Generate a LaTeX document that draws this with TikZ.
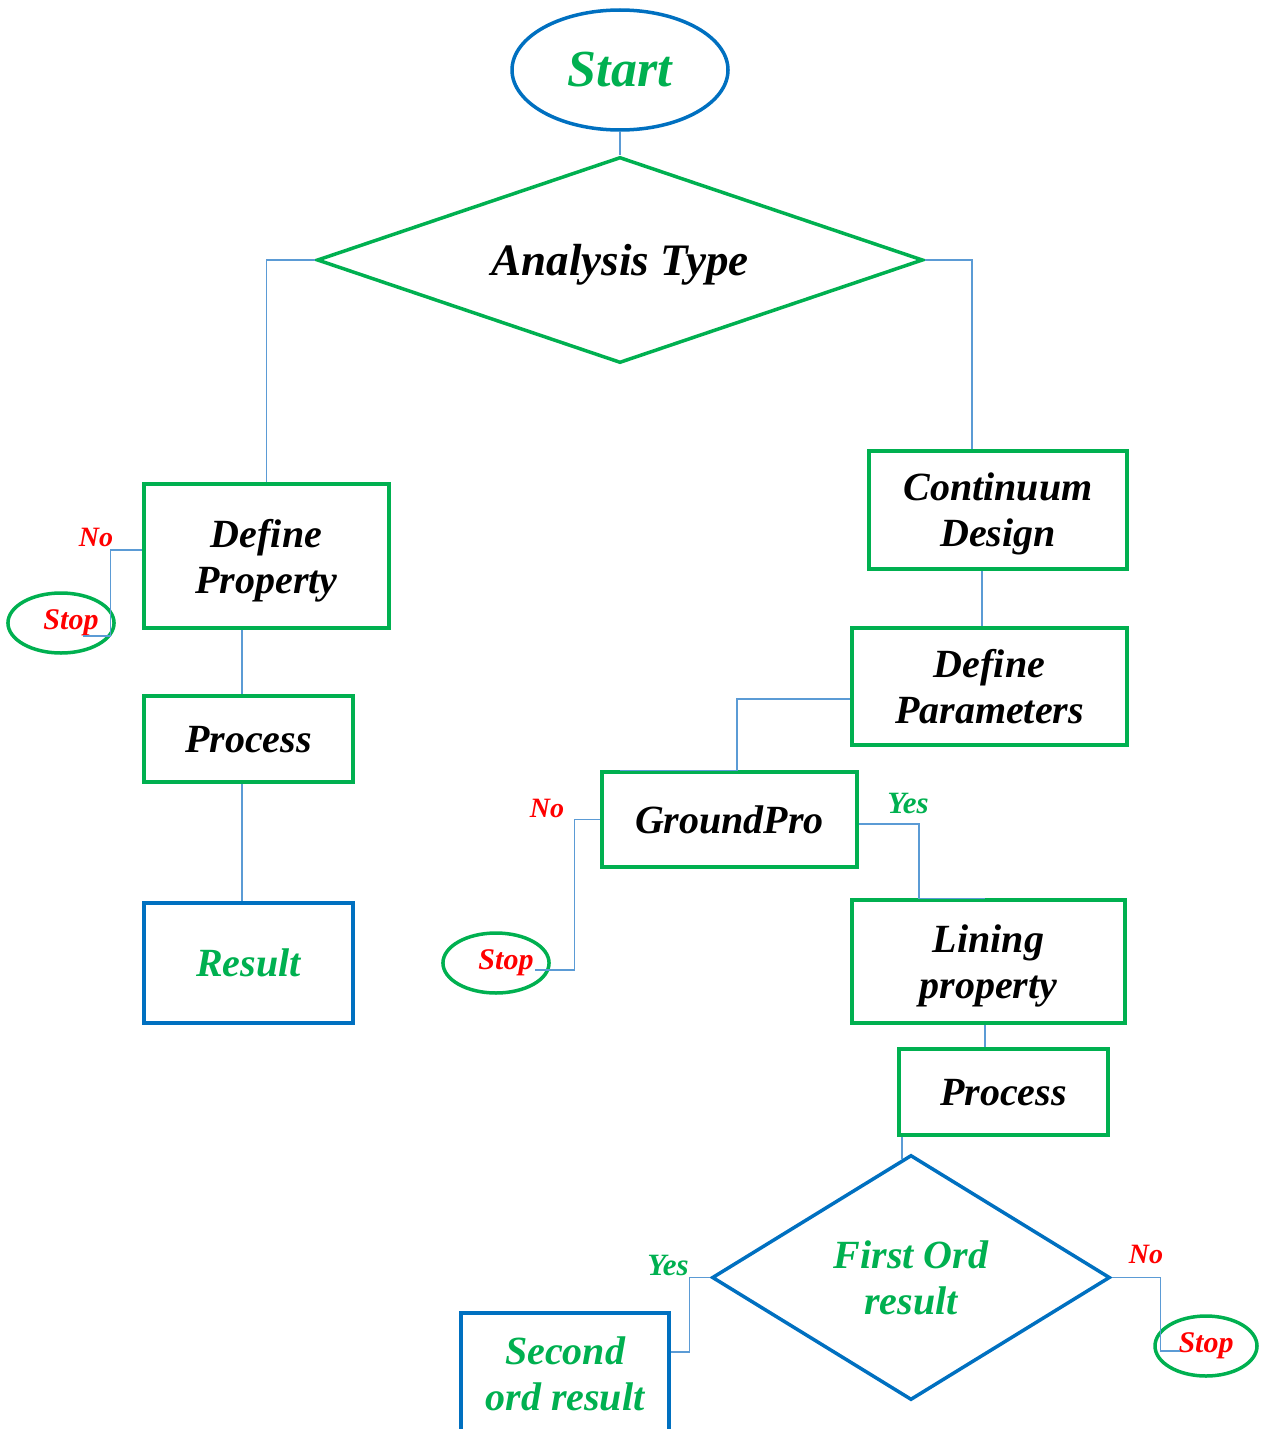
\documentclass[tikz,border=0pt]{standalone}
\usepackage{fontspec}
\setmainfont{Liberation Serif}
\usepackage{tikz}
\usetikzlibrary{shapes}
\definecolor{flowgreen}{RGB}{0,176,80}
\definecolor{flowblue}{RGB}{0,112,192}
\definecolor{linkblue}{RGB}{91,155,213}
\newcommand\flowfont{\fontsize{40}{46}\selectfont\bfseries\itshape}
\tikzstyle{terminal} = [ellipse, draw=flowblue, line width=3.5pt, inner sep=0pt, minimum width=216pt,
minimum height=120pt, text=flowgreen, font=\fontsize{52}{56}\selectfont\bfseries\itshape]
\tikzstyle{decision} = [diamond, draw=flowgreen, line width=3.5pt, inner sep=0pt, align=center, text depth=0pt,
font=\flowfont]
\tikzstyle{block} = [rectangle, draw=flowgreen, line width=3.5pt, inner sep=0pt, align=center, text depth=0pt,
font=\flowfont]
\tikzstyle{goal} = [rectangle, draw=flowblue, line width=3.5pt, inner sep=0pt, align=center, text=flowgreen,
font=\flowfont]
\tikzstyle{stopnode} = [ellipse, draw=flowgreen, line width=3.5pt, inner sep=0pt, minimum width=104pt,
minimum height=60pt, text=red, font=\fontsize{30}{32}\selectfont\bfseries\itshape]
\tikzstyle{nolabel} = [text=red, font=\fontsize{28}{30}\selectfont\bfseries\itshape]
\tikzstyle{yeslabel} = [text=flowgreen, font=\fontsize{31}{33}\selectfont\bfseries\itshape]
\tikzstyle{line} = [draw=linkblue, line width=1.3pt]

\begin{document}
\begin{tikzpicture}[x=1pt, y=-1pt, node distance=2cm]
			\useasboundingbox (0,0) rectangle (1262,1429);
			\node [terminal] (start) at (620,70) {Start};
			\node [decision, below of=start, node distance=190pt, minimum width=606pt, minimum height=206pt,
			aspect=2.94, font=\fontsize{45}{50}\selectfont\bfseries\itshape] (analysis) {Analysis Type};
			% left branch
			\node [block, below of=analysis, node distance=296pt, xshift=-353.5pt, minimum width=245pt,
			minimum height=144pt] (defprop) {Define\\Property};
			\node [stopnode, left of=defprop, node distance=205.5pt, yshift=-67pt] (stop1) {\hspace*{20pt}Stop};
			\node [block, below of=defprop, node distance=183pt, xshift=-18pt, minimum width=209pt,
			minimum height=86pt] (process1) {Process};
			\node [goal, below of=process1, node distance=224pt, minimum width=209pt, minimum height=120pt]
			(result) {Result};
			% right branch
			\node [block, below of=analysis, node distance=250pt, xshift=378pt, minimum width=258pt,
			minimum height=118pt] (continuum) {Continuum\\Design};
			\node [block, below of=continuum, node distance=176.5pt, xshift=-8.5pt, minimum width=275pt,
			minimum height=117pt] (defparams) {Define\\Parameters};
			\node [block, below of=defparams, node distance=133pt, xshift=-260pt, minimum width=255pt,
			minimum height=95pt] (groundpro) {GroundPro};
			\node [stopnode, below of=groundpro, node distance=143.5pt, xshift=-233.5pt] (stop2) {\hspace*{20pt}Stop};
			\node [block, below of=defparams, node distance=275pt, xshift=-1pt, minimum width=273pt,
			minimum height=123pt] (lining) {Lining\\property};
			\node [block, below of=lining, node distance=130.5pt, xshift=15pt, minimum width=209pt,
			minimum height=86pt] (process2) {Process};
			\node [decision, draw=flowblue, text=flowgreen, below of=process2, node distance=185.5pt,
			xshift=-92.5pt, minimum width=398pt, minimum height=245pt, aspect=1.62] (firstord) {First Ord\\result};
			\node [goal, left of=firstord, node distance=346pt, yshift=-96.5pt, minimum width=208pt,
			minimum height=122pt] (secondord) {Second\\ord result};
			\node [stopnode, right of=firstord, node distance=295pt, yshift=-68.5pt, minimum width=102pt] (stop3) {Stop};
			% labels
			\node [nolabel] (no1) at (96,537) {No};
			\node [nolabel] (no2) at (547,808) {No};
			\node [yeslabel] (yes1) at (908,803) {Yes};
			\node [yeslabel] (yes2) at (668,1265) {Yes};
			\node [nolabel] (no3) at (1146,1254) {No};
			% connectors
			\path [line] (start.south) -- (analysis.north);
			\path [line] (analysis.west) -| (defprop.north);
			\path [line] (analysis.east) -| ([xshift=-26pt]continuum.north);
			\path [line] ([yshift=6pt]defprop.west) -- ++(-32pt,0) |- ([xshift=22pt,yshift=-13pt]stop1.center);
			\path [line] ([xshift=-24.5pt]defprop.south) -- ([xshift=-6.5pt]process1.north);
			\path [line] ([xshift=-6.5pt]process1.south) -- ([xshift=-6.5pt]result.north);
			\path [line] ([xshift=-16pt]continuum.south) -- ([xshift=-7.5pt]defparams.north);
			\path [line] ([yshift=-12.5pt]defparams.west) -| ([xshift=7.5pt]groundpro.north)
			-- ([xshift=-109.5pt]groundpro.north);
			\path [line] (groundpro.west) -- ++(-26pt,0) |- ([xshift=39pt,yshift=-7pt]stop2.center);
			\path [line] ([yshift=-4.5pt]groundpro.east) -| ([xshift=-69.5pt]lining.north) -- ([xshift=-3.5pt]lining.north);
			\path [line] ([xshift=-3.5pt]lining.south) -- ([xshift=-18.5pt]process2.north);
			\path [line] ([xshift=-101.5pt]process2.south) -- ([xshift=-101.5pt,yshift=-22pt]process2.south);
			\path [line] (firstord.west) -- ++(-21pt,0) |- ([yshift=22pt]secondord.east);
			\path [line] (firstord.east) -- ++(49pt,0) |- ([xshift=-26pt,yshift=-5pt]stop3.center);
		\end{tikzpicture}
\end{document}
